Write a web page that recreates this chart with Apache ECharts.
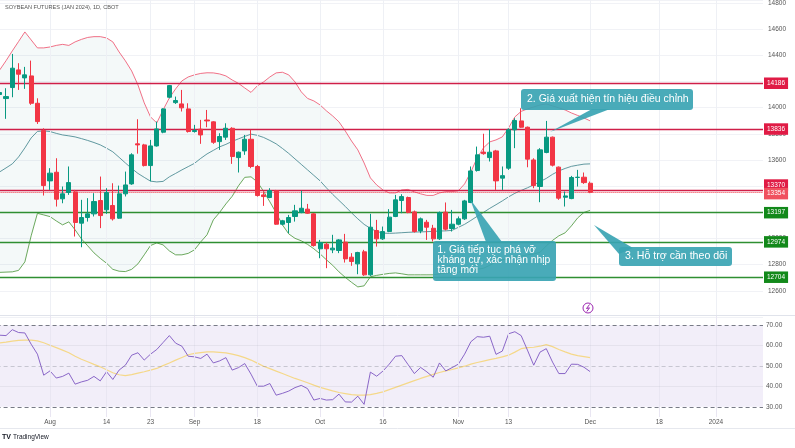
<!DOCTYPE html>
<html>
<head>
<meta charset="utf-8">
<script src="https://cdn.jsdelivr.net/npm/echarts@6/dist/echarts.min.js"></script>
<style>
html, body { margin: 0; padding: 0; background: #fff; }
#chart { width: 795px; height: 448px; }
</style>
</head>
<body>
<div id="chart"></div>
<script>
// trading days shown on the time axis (Jul 20 is cut off at the left edge)
var dates = [
  '2023-07-20','2023-07-21','2023-07-24','2023-07-25','2023-07-26','2023-07-27','2023-07-28','2023-07-31',
  '2023-08-01','2023-08-02','2023-08-03','2023-08-04','2023-08-07','2023-08-08','2023-08-09','2023-08-10','2023-08-11',
  '2023-08-14','2023-08-15','2023-08-16','2023-08-17','2023-08-18','2023-08-21','2023-08-22','2023-08-23','2023-08-24',
  '2023-08-25','2023-08-28','2023-08-29','2023-08-30','2023-08-31',
  '2023-09-01','2023-09-05','2023-09-06','2023-09-07','2023-09-08','2023-09-11','2023-09-12','2023-09-13','2023-09-14',
  '2023-09-15','2023-09-18','2023-09-19','2023-09-20','2023-09-21','2023-09-22','2023-09-25','2023-09-26','2023-09-27',
  '2023-09-28','2023-09-29',
  '2023-10-02','2023-10-03','2023-10-04','2023-10-05','2023-10-06','2023-10-09','2023-10-10','2023-10-11','2023-10-12',
  '2023-10-13','2023-10-16','2023-10-17','2023-10-18','2023-10-19','2023-10-20','2023-10-23','2023-10-24','2023-10-25',
  '2023-10-26','2023-10-27','2023-10-30','2023-10-31',
  '2023-11-01','2023-11-02','2023-11-03','2023-11-06','2023-11-07','2023-11-08','2023-11-09','2023-11-10','2023-11-13',
  '2023-11-14','2023-11-15','2023-11-16','2023-11-17','2023-11-20','2023-11-21','2023-11-22','2023-11-24','2023-11-27',
  '2023-11-28','2023-11-29','2023-11-30',
  '2023-12-01','2023-12-04','2023-12-05','2023-12-06','2023-12-07','2023-12-08','2023-12-11','2023-12-12','2023-12-13',
  '2023-12-14','2023-12-15','2023-12-18','2023-12-19','2023-12-20','2023-12-21','2023-12-22','2023-12-26','2023-12-27',
  '2023-12-28','2023-12-29',
  '2024-01-02','2024-01-03','2024-01-04','2024-01-05','2024-01-08','2024-01-09','2024-01-10','2024-01-11'
];

var tickDates = ['2023-08-01','2023-08-14','2023-08-23','2023-09-01','2023-09-18','2023-10-02','2023-10-16',
                 '2023-11-01','2023-11-13','2023-12-01','2023-12-18','2024-01-02'];
var tickLabels = ['Aug','14','23','Sep','18','Oct','16','Nov','13','Dec','18','2024'];

// daily candles
var open = [14100,14069,14153,14288,14227,14242,14033,13824,13440,13506,
            13303,13351,13356,13117,13160,13188,13290,13219,13252,13155,
            13341,13417,13723,13715,13557,13707,13812,14079,14038,14028,
            13990,13817,13835,13905,13891,13740,13774,13842,13618,13669,
            13758,13550,13333,13313,13366,13109,13122,13168,13198,13224,
            13188,12921,12956,12913,12908,12972,12857,12806,12898,12722,
            13061,12997,13053,13168,13290,13313,13203,13058,13124,13078,
            12997,13201,13076,13109,13150,13275,13519,13660,13618,13669,
            13461,13537,13830,13898,13850,13600,13397,13657,13774,13545,
            13315,13305,13466,13468,13422];
var close = [14115,14084,14301,14255,14250,14033,13893,13404,13499,13300,
             13341,13427,13122,13160,13188,13282,13175,13351,13150,13341,
             13409,13639,13715,13557,13707,13837,13990,14168,14054,13998,
             13817,13825,13791,13898,13735,13779,13842,13626,13659,13758,
             13550,13328,13320,13366,13109,13135,13160,13211,13231,13193,
             12946,12969,12921,12926,12989,12844,12824,12893,12722,13086,
             12997,13053,13163,13295,13320,13198,13053,13150,13086,12997,
             13198,13071,13109,13150,13287,13516,13639,13648,13659,13440,
             13480,13830,13901,13850,13606,13404,13677,13774,13560,13308,
             13325,13466,13468,13427,13353];
var low = [14090,13914,14079,14135,14143,14021,13875,13328,13371,13244,
           13269,13333,13015,12933,13129,13168,13079,13188,13137,13150,
           13321,13410,13648,13550,13435,13702,13804,14071,14028,13970,
           13809,13809,13723,13850,13723,13677,13753,13570,13504,13639,
           13537,13320,13249,13308,13104,13101,13040,13129,13193,13188,
           12938,12849,12773,12888,12888,12816,12791,12727,12714,12714,
           12938,12989,13048,13163,13193,13193,13045,13040,12989,12977,
           12989,13061,13053,13101,13142,13270,13511,13640,13588,13371,
           13371,13524,13690,13845,13544,13384,13277,13651,13550,13295,
           13244,13300,13397,13417,13346];
var high = [14130,14148,14410,14339,14311,14359,14071,13842,13537,13613,
            13397,13550,13371,13295,13308,13346,13473,13384,13422,13404,
            13511,13651,13911,13723,13753,13893,13995,14173,14084,14135,
            14033,13868,13906,13982,13896,13804,13880,13850,13664,13791,
            13830,13562,13359,13384,13371,13142,13180,13257,13366,13264,
            13193,12989,12969,13028,12995,13035,12888,12898,12913,13188,
            13142,13091,13224,13333,13338,13320,13213,13160,13142,13104,
            13206,13275,13218,13168,13295,13550,13702,13800,13835,13677,
            13550,13842,13919,13995,13855,13613,13690,13898,13779,13550,
            13359,13478,13524,13504,13435];

// Bollinger Bands (20, 2)
var bbUpper = [14288,14358,14433,14505,14578,14517,14456,14456,14463,14475,
               14483,14475,14502,14521,14536,14542,14542,14532,14502,14425,
               14357,14280,14173,14036,13929,13883,13982,14074,14143,14204,
               14234,14250,14261,14266,14265,14257,14242,14211,14185,14150,
               14116,14166,14196,14234,14265,14270,14250,14196,14120,14070,
               14051,14020,13975,13936,13891,13822,13745,13677,13577,13463,
               13409,13371,13348,13348,13371,13375,13356,13341,13329,13329,
               13348,13358,13358,13364,13417,13509,13616,13692,13738,13753,
               13776,13845,13929,13971,13990,14005,14020,14028,14013,13998,
               13982,13959,13940,13921,13898];
var bbBasis = [13509,13539,13570,13623,13692,13768,13818,13822,13817,13803,
               13791,13784,13776,13763,13749,13733,13715,13690,13662,13620,
               13577,13535,13497,13467,13438,13432,13436,13471,13497,13524,
               13549,13574,13612,13646,13673,13700,13719,13742,13761,13780,
               13797,13788,13772,13749,13723,13688,13650,13608,13566,13524,
               13482,13440,13387,13337,13291,13245,13196,13150,13108,13077,
               13054,13041,13039,13041,13044,13047,13049,13050,13052,13054,
               13057,13058,13062,13085,13108,13138,13169,13199,13230,13258,
               13287,13318,13345,13367,13387,13410,13434,13459,13490,13516,
               13535,13551,13560,13568,13570];
var bbLower = [12741,12743,12745,12756,12821,13020,13192,13180,13167,13134,
               13104,13127,13066,12997,12944,12890,12848,12811,12764,12750,
               12747,12764,12806,12875,12946,12966,12951,12905,12875,12875,
               12886,12913,12974,13028,13142,13199,13264,13322,13402,13467,
               13471,13432,13360,13280,13196,13104,13035,13001,12982,12955,
               12921,12882,12837,12795,12745,12703,12665,12630,12638,12707,
               12718,12726,12733,12737,12730,12722,12722,12722,12722,12722,
               12730,12735,12740,12741,12753,12760,12764,12772,12795,12821,
               12837,12848,12860,12865,12875,12882,12894,12943,12985,13020,
               13043,13096,13157,13199,13215];

// RSI (14) and its moving average
var rsi = [65.1,64.9,67.8,66.4,66.2,60.7,55.8,45.5,47.6,44.1,
           44.9,46.5,41.1,42.2,43.0,44.9,42.7,47.2,43.4,48.0,
           50.4,55.3,56.5,52.9,55.8,58.1,61.5,64.9,61.2,59.7,
           54.8,54.5,53.7,55.8,51.5,52.5,54.1,48.0,49.2,51.2,
           46.0,40.1,40.1,41.4,35.7,36.6,37.7,39.4,40.5,38.9,
           33.3,34.1,33.3,33.5,36.2,32.4,32.3,35.2,31.2,47.0,
           45.0,47.5,50.9,54.8,55.1,50.7,46.3,49.3,47.1,44.5,
           51.5,47.6,49.2,50.9,55.8,61.9,64.4,64.1,64.6,55.7,
           57.3,65.8,66.8,64.9,57.8,50.4,56.8,58.5,51.9,46.3,
           46.3,50.9,50.8,49.4,47.2];
var rsiMa = [61.3,61.7,62.2,62.6,62.7,62.7,62.3,61.4,60.2,59.0,
             57.8,56.5,54.8,53.3,52.1,50.8,49.6,48.2,46.7,45.7,
             45.3,45.8,46.5,47.2,48.0,48.8,50.2,51.5,52.9,54.2,
             55.5,56.2,56.6,56.9,56.9,56.7,56.4,55.8,55.1,54.1,
             52.9,51.4,49.9,48.7,47.5,46.3,45.1,43.9,42.9,41.8,
             40.6,39.5,38.7,37.8,37.0,36.5,36.0,35.7,35.7,36.0,
             36.6,37.3,38.4,39.5,40.6,41.7,42.8,43.9,44.9,45.9,
             46.8,47.6,48.3,49.1,49.9,50.9,51.7,52.4,53.1,53.7,
             54.5,55.3,56.8,58.5,59.0,59.2,59.7,60.5,59.5,58.1,
             56.9,55.8,55.1,54.6,54.1];

// horizontal price levels drawn on the chart
var resistLevels = [14186, 13836, 13370];
var lastPrice = 13354;
var supportLevels = [13197, 12974, 12704];

//---------------------------//
//        BUILD CHART        //
//---------------------------//
var FONT = 'Liberation Sans';
var RED_LINE = '#cf1f48', RED_TAG = '#e01b45';
var GREEN_LINE = '#2f8f32', GREEN_TAG = '#12891a';
var BOX = 'rgba(58,164,179,0.92)';

var candleData = [];
for (var i = 0; i < open.length; i++) {
  candleData.push([open[i], close[i], low[i], high[i]]);
}
// band fill = lower + (upper - lower), stacked
var bandSpan = bbUpper.map(function (u, i) { return u - bbLower[i]; });

var tickMap = {};
tickDates.forEach(function (d, k) { tickMap[d] = tickLabels[k]; });
var vGrid = tickDates.map(function (d) { return { xAxis: d }; });

function tag(v, lineColor, tagColor, lineType, dy) {
  return {
    yAxis: v,
    lineStyle: { color: lineColor, width: lineType === 'dotted' ? 1 : 1.4, type: lineType },
    label: {
      show: true, position: 'end', distance: 1, formatter: String(v),
      color: '#fff', backgroundColor: tagColor, padding: [2.5, 3, 2, 3],
      fontSize: 6.5, fontFamily: FONT, offset: [0, dy]
    }
  };
}

var levelData = [];
resistLevels.forEach(function (v) {
  levelData.push(tag(v, RED_LINE, RED_TAG, 'solid', v === 13370 ? -5 : 0));
});
levelData.push(tag(lastPrice, '#f23645', '#f0515f', 'dotted', 1.5));
supportLevels.forEach(function (v) {
  levelData.push(tag(v, GREEN_LINE, GREEN_TAG, 'solid', 0));
});

var chart = echarts.init(document.getElementById('chart'));

var option = {
  backgroundColor: '#fff',
  animation: false,
  grid: [
    { left: -3.4, right: 32, top: 0, height: 317, outerBoundsMode: 'none' },
    { left: -3.4, right: 32, top: 315, height: 102, outerBoundsMode: 'none' }
  ],
  xAxis: [
    {
      type: 'category', gridIndex: 0, data: dates, boundaryGap: true,
      axisLine: { show: false }, axisTick: { show: false },
      axisLabel: { show: false }, splitLine: { show: false }
    },
    {
      type: 'category', gridIndex: 1, data: dates, boundaryGap: true,
      axisLine: { show: false }, axisTick: { show: false }, splitLine: { show: false },
      axisLabel: {
        interval: function (idx, val) { return tickMap[val] !== undefined; },
        formatter: function (val) { return tickMap[val] || ''; },
        fontSize: 6.5, color: '#555', margin: 2, fontFamily: FONT
      }
    }
  ],
  yAxis: [
    {
      type: 'value', gridIndex: 0, position: 'right',
      min: 12400, max: 14822, interval: 200,
      axisLine: { show: false }, axisTick: { show: false },
      splitLine: { lineStyle: { color: '#f1f2f6' } },
      axisLabel: {
        fontSize: 6.5, color: '#555', margin: 5, fontFamily: FONT,
        formatter: function (v) { return (v % 200 === 0 && v >= 12600) ? String(v) : ''; }
      }
    },
    {
      type: 'value', gridIndex: 1, position: 'right',
      min: 25, max: 75, interval: 5,
      axisLine: { show: false }, axisTick: { show: false }, splitLine: { show: false },
      axisLabel: {
        fontSize: 6.5, color: '#555', margin: 3, fontFamily: FONT,
        formatter: function (v) { return (v % 10 === 0 && v >= 30 && v <= 70) ? v.toFixed(2) : ''; }
      }
    }
  ],
  series: [
    {
      name: 'bbBase', type: 'line', xAxisIndex: 0, yAxisIndex: 0,
      data: bbLower, stack: 'bb', symbol: 'none', silent: true, z: 1,
      lineStyle: { opacity: 0 },
      markLine: {
        silent: true, symbol: ['none', 'none'], label: { show: false },
        lineStyle: { color: '#eef0f5', width: 1, type: 'solid' },
        data: vGrid
      }
    },
    {
      name: 'bbFill', type: 'line', xAxisIndex: 0, yAxisIndex: 0,
      data: bandSpan, stack: 'bb', symbol: 'none', silent: true, z: 1,
      lineStyle: { opacity: 0 },
      areaStyle: { color: 'rgba(40,130,130,0.075)' }
    },
    {
      name: 'upper', type: 'line', xAxisIndex: 0, yAxisIndex: 0, data: bbUpper,
      symbol: 'none', silent: true, z: 2, lineStyle: { color: '#ee6078', width: 0.9 }
    },
    {
      name: 'basis', type: 'line', xAxisIndex: 0, yAxisIndex: 0, data: bbBasis,
      symbol: 'none', silent: true, z: 2, lineStyle: { color: '#4f8d95', width: 0.9 }
    },
    {
      name: 'lower', type: 'line', xAxisIndex: 0, yAxisIndex: 0, data: bbLower,
      symbol: 'none', silent: true, z: 2, lineStyle: { color: '#5a9e4b', width: 0.9 }
    },
    {
      name: 'price', type: 'candlestick', xAxisIndex: 0, yAxisIndex: 0,
      data: candleData, barWidth: 4.6, z: 5,
      itemStyle: {
        color: '#089981', color0: '#f23645',
        borderColor: '#089981', borderColor0: '#f23645', borderWidth: 1
      },
      markLine: {
        silent: true, symbol: ['none', 'none'], precision: 0,
        data: levelData
      }
    },
    {
      name: 'rsiMa', type: 'line', xAxisIndex: 1, yAxisIndex: 1, data: rsiMa,
      symbol: 'none', silent: true, z: 3, lineStyle: { color: '#f5d889', width: 1.2 },
      markLine: {
        silent: true, symbol: ['none', 'none'], label: { show: false },
        lineStyle: { color: '#e9e6f2', width: 1, type: 'solid' },
        data: vGrid
      }
    },
    {
      name: 'rsi', type: 'line', xAxisIndex: 1, yAxisIndex: 1, data: rsi,
      symbol: 'none', silent: true, z: 4, lineStyle: { color: '#7e57c2', width: 0.9 },
      markArea: {
        silent: true, itemStyle: { color: 'rgba(126,87,194,0.1)' },
        data: [[{ yAxis: 30 }, { yAxis: 70 }]]
      },
      markLine: {
        silent: true, symbol: ['none', 'none'], label: { show: false },
        data: [
          { yAxis: 70, lineStyle: { color: '#787b86', type: [4, 3], width: 1 } },
          { yAxis: 30, lineStyle: { color: '#787b86', type: [4, 3], width: 1 } },
          { yAxis: 50, lineStyle: { color: 'rgba(120,123,134,0.35)', type: [4, 3], width: 1 } },
          { yAxis: 60, lineStyle: { color: 'rgba(120,123,134,0.1)', type: 'solid', width: 1 } },
          { yAxis: 40, lineStyle: { color: 'rgba(120,123,134,0.1)', type: 'solid', width: 1 } }
        ]
      }
    }
  ],
  graphic: [
    { type: 'text', z: 100, style: { text: 'SOYBEAN FUTURES (JAN 2024), 1D, CBOT', x: 5, y: 7,
      fill: '#555', font: '5.6px ' + FONT, textVerticalAlign: 'middle' } },
    { type: 'line', z: 100, shape: { x1: 0, y1: 315.5, x2: 795, y2: 315.5 }, style: { stroke: '#e0e3eb', lineWidth: 1 } },
    { type: 'line', z: 100, shape: { x1: 0, y1: 428.5, x2: 795, y2: 428.5 }, style: { stroke: '#e6e8ee', lineWidth: 1 } },
    { type: 'text', z: 100, style: { text: 'TV', x: 2, y: 437, fill: '#131722',
      font: 'bold 7px ' + FONT, textVerticalAlign: 'middle' } },
    { type: 'text', z: 100, style: { text: 'TradingView', x: 13, y: 437, fill: '#131722',
      font: '6.5px ' + FONT, textVerticalAlign: 'middle' } },
    { type: 'circle', z: 100, shape: { cx: 588, cy: 308, r: 5 }, style: { fill: '#fff', stroke: '#9c27b0', lineWidth: 1 } },
    { type: 'polyline', z: 101, shape: { points: [[589.5, 304.5], [586.5, 308.5], [589.5, 307.8], [586.8, 311.5]] },
      style: { stroke: '#9c27b0', lineWidth: 1, fill: null } },
    // callout 1
    { type: 'polygon', z: 100, shape: { points: [[470, 199], [486, 242], [502, 242]] }, style: { fill: BOX } },
    { type: 'rect', z: 100, shape: { x: 433, y: 241, width: 123, height: 40, r: 3 }, style: { fill: BOX } },
    { type: 'text', z: 101, style: { text: '1. Giá tiếp tục phá vỡ\nkháng cự, xác nhận nhịp\ntăng mới',
      x: 437.5, y: 245.5, fill: '#fff', font: '10.3px ' + FONT, lineHeight: 10, textVerticalAlign: 'top' } },
    // callout 2
    { type: 'polygon', z: 100, shape: { points: [[550, 132], [592, 109], [610, 109]] }, style: { fill: BOX } },
    { type: 'rect', z: 100, shape: { x: 521, y: 89, width: 172, height: 21, r: 3 }, style: { fill: BOX } },
    { type: 'text', z: 101, style: { text: '2. Giá xuất hiện tín hiệu điều chỉnh',
      x: 527, y: 99.5, fill: '#fff', font: '10.5px ' + FONT, textVerticalAlign: 'middle' } },
    // callout 3
    { type: 'polygon', z: 100, shape: { points: [[594, 225], [619, 254], [633, 248]] }, style: { fill: BOX } },
    { type: 'rect', z: 100, shape: { x: 619, y: 247, width: 113, height: 19, r: 3 }, style: { fill: BOX } },
    { type: 'text', z: 101, style: { text: '3. Hỗ trợ cần theo dõi',
      x: 625, y: 256.5, fill: '#fff', font: '10.6px ' + FONT, textVerticalAlign: 'middle' } }
  ]
};

chart.setOption(option);
</script>
</body>
</html>
